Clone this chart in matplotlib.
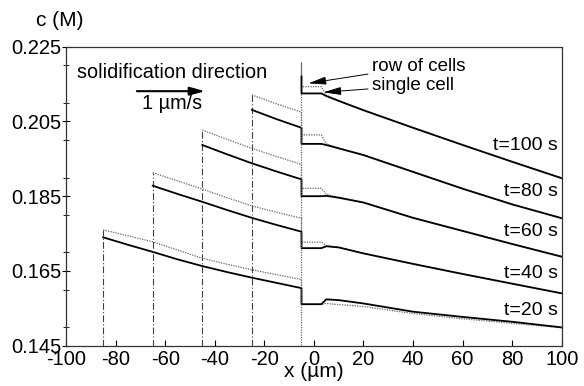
import matplotlib
matplotlib.use("Agg")
import matplotlib.pyplot as plt
from matplotlib.ticker import MultipleLocator

plt.rcParams['font.family'] = ['Liberation Sans', 'DejaVu Sans']
plt.rcParams['axes.unicode_minus'] = False

# times and where each profile starts in the solid
times = [20, 40, 60, 80, 100]
x_start = [-85, -65, -45, -25, -5]
x_solid = [-85, -75, -65, -55, -45, -35, -25, -15, -5]

# solid side, from x_start up to the interface
single_solid = {
    20: [0.1740, 0.1720, 0.1701, 0.1681, 0.1663, 0.1647, 0.1632, 0.1618, 0.1604],
    40: [0.1878, 0.1856, 0.1835, 0.1813, 0.1792, 0.1773, 0.1755],
    60: [0.1987, 0.1962, 0.1938, 0.1916, 0.1895],
    80: [0.2081, 0.2056, 0.2033],
    100: [0.2170],
}
row_solid = {
    20: [0.1760, 0.1744, 0.1728, 0.1706, 0.1684, 0.1668, 0.1653, 0.1640, 0.1627],
    40: [0.1913, 0.1891, 0.1869, 0.1846, 0.1824, 0.1807, 0.1791],
    60: [0.2027, 0.2002, 0.1978, 0.1956, 0.1935],
    80: [0.2121, 0.2097, 0.2075],
    100: [0.2206],
}

# liquid side
x_liq = [-5, 3, 5, 10, 20, 40, 60, 80, 100]
single_liq = {
    20: [0.1561, 0.1561, 0.1574, 0.1572, 0.1563, 0.1541, 0.1527, 0.1514, 0.1499],
    40: [0.1711, 0.1711, 0.1716, 0.1713, 0.1697, 0.1669, 0.1642, 0.1616, 0.1590],
    60: [0.1850, 0.1850, 0.1851, 0.1846, 0.1833, 0.1792, 0.1757, 0.1722, 0.1688],
    80: [0.1990, 0.1990, 0.1987, 0.1978, 0.1960, 0.1915, 0.1870, 0.1828, 0.1791],
    100: [0.2125, 0.2125, 0.2118, 0.2105, 0.2080, 0.2033, 0.1987, 0.1942, 0.1898],
}
row_liq = {
    20: [0.1561, 0.1561, 0.1563, 0.1560, 0.1555, 0.1536, 0.1522, 0.1510, 0.1498],
    40: [0.1727, 0.1727, 0.1718, 0.1713, 0.1697, 0.1668, 0.1641, 0.1615, 0.1590],
    60: [0.1871, 0.1871, 0.1855, 0.1847, 0.1834, 0.1793, 0.1758, 0.1723, 0.1689],
    80: [0.2014, 0.2014, 0.1990, 0.1979, 0.1961, 0.1916, 0.1871, 0.1829, 0.1792],
    100: [0.2143, 0.2143, 0.2120, 0.2106, 0.2081, 0.2034, 0.1988, 0.1943, 0.1899],
}
label_y = {100: 0.1987, 80: 0.1862, 60: 0.1755, 40: 0.1644, 20: 0.1545}

fig = plt.figure(figsize=(5.84, 3.86), dpi=100)
ax = fig.add_axes([0.113, 0.1044, 0.849, 0.7746])

for t, x0 in zip(times, x_start):
    i0 = x_solid.index(x0)
    xs = x_solid[i0:]
    # row of cells (dotted)
    xr = xs + x_liq
    yr = row_solid[t] + row_liq[t]
    if t == 100:
        xr = [x0] + xr
        yr = [0.145] + yr
    else:
        ax.plot([x0, x0], [0.145, row_solid[t][0]], color='0.25', lw=0.8,
                ls=(0, (6, 2, 1, 2)))
    ax.plot(xr, yr, color='0.4', lw=0.9, ls=(0, (1, 1)))
    # single cell (solid)
    ax.plot(xs + x_liq, single_solid[t] + single_liq[t], color='black', lw=1.3)
    ax.text(98.5, label_y[t], f"t={t} s", ha='right', va='center', fontsize=14)

ax.set_xlim(-100, 100)
ax.set_ylim(0.145, 0.225)
ax.xaxis.set_major_locator(MultipleLocator(20))
ax.set_yticks([0.145, 0.165, 0.185, 0.205, 0.225])
ax.set_yticklabels(['0.145', '0.165', '0.185', '0.205', '0.225'])
ax.yaxis.set_minor_locator(MultipleLocator(0.01))
ax.tick_params(axis='x', direction='in', length=4, labelsize=14.5, pad=3)
ax.tick_params(axis='y', which='major', direction='inout', length=6, labelsize=14.5, pad=0)
ax.tick_params(axis='y', which='minor', direction='inout', length=4)
for s in ax.spines.values():
    s.set_linestyle((0, (1, 1)))
    s.set_linewidth(0.9)
    s.set_color('0.2')

ax.set_xlabel("x (µm)", fontsize=15, labelpad=-5)
fig.text(0.062, 0.948, "c (M)", fontsize=15, ha='left', va='center')

ax.text(-95.6, 0.2182, "solidification direction", fontsize=14.3, va='center')
ax.annotate("", xy=(-43.9, 0.2131), xytext=(-71.4, 0.2131),
            arrowprops=dict(arrowstyle='-|>,head_length=0.9,head_width=0.25',
                            color='black', lw=1.5, shrinkA=0, shrinkB=0))
ax.text(-57.2, 0.2097, "1 µm/s", fontsize=14.3, ha='center', va='center')

ax.annotate("row of cells", xy=(-2.2, 0.2152), xytext=(23.5, 0.2198),
            fontsize=13.5, va='center',
            arrowprops=dict(arrowstyle='-|>,head_length=0.8,head_width=0.18',
                            color='black', lw=0.7, shrinkA=1, shrinkB=0))
ax.annotate("single cell", xy=(3.8, 0.2128), xytext=(23.5, 0.2146),
            fontsize=13.5, va='center',
            arrowprops=dict(arrowstyle='-|>,head_length=0.8,head_width=0.18',
                            color='black', lw=0.7, shrinkA=1, shrinkB=0))

fig.savefig("out.png", dpi=100)
